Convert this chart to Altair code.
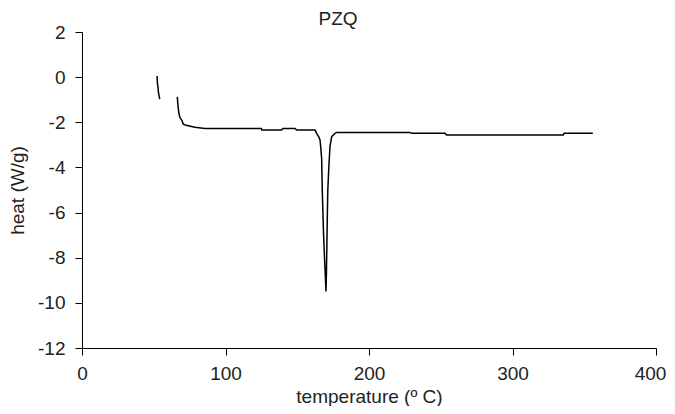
import altair as alt
import pandas as pd

# segment 1 (short initial trace)
seg1_temp = [52.3, 52.6, 53.0, 53.3, 54.2]
seg1_heat = [0.05, -0.3, -0.45, -0.7, -0.97]

# segment 2 (main trace)
seg2_temp = [66.4, 66.8, 67.5, 68.3, 69.5, 70.6, 72, 74, 78.7, 85.7, 100, 125, 125.3,
             139.2, 140, 148.4, 149.6, 162.4, 163.5, 165.0, 165.9, 166.5, 167, 167.5,
             168.3, 169, 169.6, 170, 170.3, 170.6, 171, 171.3, 172, 172.8, 174, 176.3,
             177.5, 228.6, 229.7, 253, 254, 335.4, 336, 356]
seg2_heat = [-0.87, -1.2, -1.6, -1.8, -1.9, -2.08, -2.12, -2.15, -2.22, -2.27, -2.27,
             -2.27, -2.34, -2.34, -2.27, -2.27, -2.34, -2.34, -2.49, -2.65, -2.79, -3.2,
             -3.6, -5.15, -6.9, -8.0, -8.84, -9.5, -8.8, -7.66, -6.0, -5.0, -4.0, -3.08,
             -2.64, -2.49, -2.45, -2.45, -2.49, -2.49, -2.56, -2.56, -2.49, -2.49]

x_ticks = [0, 100, 200, 300, 400]
y_ticks = [2, 0, -2, -4, -6, -8, -10, -12]

rows = []
for i, (t, h) in enumerate(zip(seg1_temp, seg1_heat)):
    rows.append({"seg": 1, "i": i, "temp": t, "heat": h})
for i, (t, h) in enumerate(zip(seg2_temp, seg2_heat)):
    rows.append({"seg": 2, "i": i, "temp": t, "heat": h})
df = pd.DataFrame(rows)

FONT = "Liberation Sans"
TXT = "#222"

chart = alt.Chart(df).mark_line(color="black", strokeWidth=1.5).encode(
    x=alt.X("temp:Q", scale=alt.Scale(domain=[0, 400], nice=False),
            axis=alt.Axis(values=x_ticks, title="temperature (º C)", grid=False,
                          domainColor="black", tickColor="black", tickSize=7,
                          labelPadding=9, labelFontSize=19,
                          titleFontSize=19, labelFont=FONT, titleFont=FONT,
                          labelColor=TXT, titleColor=TXT, titleFontWeight="normal",
                          labelFlush=False, labelExpr="'' + datum.value",
                          labelOffset={"condition": {"test": "datum.value == 400", "value": -6},
                                       "value": 0},
                          titleBaseline="alphabetic", titleY=54)),
    y=alt.Y("heat:Q", scale=alt.Scale(domain=[-12, 2], nice=False),
            axis=alt.Axis(values=y_ticks, title="heat  (W/g)", grid=False,
                          domainColor="black", tickColor="black", tickSize=7,
                          labelPadding=10, labelFontSize=19,
                          titleFontSize=19, labelFont=FONT, titleFont=FONT,
                          labelColor=TXT, titleColor=TXT, titleFontWeight="normal",
                          labelFlush=False, labelExpr="'' + datum.value",
                          titleBaseline="alphabetic", titleX=-59, titleY=158)),
    detail="seg:N",
    order="i:Q",
).properties(
    width=574, height=316,
    title=alt.TitleParams("PZQ", font=FONT, fontSize=19, fontWeight="normal",
                          color=TXT, frame="group", anchor="middle", dx=-31, dy=9,
                          offset=3),
    autosize=alt.AutoSizeParams(type="none"),
    padding={"left": 74, "top": 24, "right": 11, "bottom": 58},
).configure_view(stroke=None)

chart.save("out.html", embed_options={"renderer": "svg", "actions": False})
